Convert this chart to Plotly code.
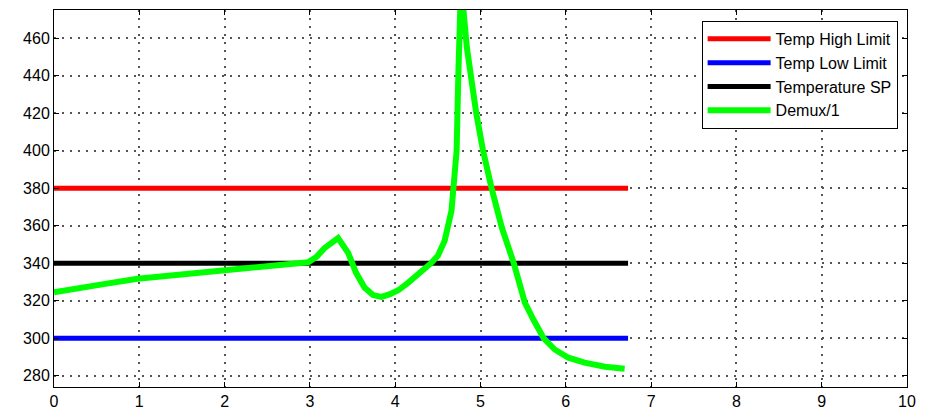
import plotly.graph_objects as go

# ---- data ----
limit_x = [0, 6.73]
high_limit = [380, 380]
low_limit = [300, 300]
setpoint = [340, 340]

demux_x = [0.0, 0.3, 0.6, 0.98, 1.5, 2.0, 2.58, 2.98, 3.08, 3.17, 3.33, 3.45, 3.54, 3.64, 3.74,
           3.84, 3.94, 4.04, 4.15, 4.27, 4.42, 4.5, 4.58, 4.66, 4.69, 4.72, 4.74, 4.755, 4.775,
           4.80, 4.84, 4.95, 5.03, 5.13, 5.25, 5.39, 5.46, 5.52, 5.62, 5.74, 5.87, 6.03,
           6.22, 6.46, 6.69]
demux_y = [324.5, 327.0, 329.0, 331.7, 334.0, 336.0, 338.0, 340.5, 343.5, 348.0, 353.4, 345.4,
           335.0, 327.0, 323.0, 322.0, 323.5, 325.7, 329.5, 334.0, 340.0, 344.0, 352.0, 368.0,
           380.5, 400.0, 440.0, 478.0, 495.0, 475.0, 455.0, 420.0, 400.0, 380.0, 359.0, 340.0,
           329.5, 319.0, 310.0, 300.0, 294.0, 289.6, 287.0, 284.8, 283.7]

series = [
    ("Temp High Limit", limit_x, high_limit, "#ff0000", 5),
    ("Temp Low Limit", limit_x, low_limit, "#0000ff", 5),
    ("Temperature SP", limit_x, setpoint, "#000000", 5),
    ("Demux/1", demux_x, demux_y, "#00ff00", 6),
]

fig = go.Figure()
for i, (name, xs, ys, color, w) in enumerate(series):
    fig.add_trace(go.Scatter(x=xs, y=ys, mode="lines", name=name,
                             line=dict(color=color, width=w, shape="linear"),
                             legendgroup=f"g{i}"))

axis_common = dict(
    showline=True, linecolor="black", linewidth=1, mirror="ticks",
    ticks="inside", ticklen=5, tickcolor="black", tickwidth=1,
    showgrid=True, gridcolor="#555555", gridwidth=1.5, griddash="1.5px,6.5px",
    zeroline=False, automargin=False,
    tickfont=dict(family="Liberation Sans, Arial, sans-serif", size=16, color="black"),
)

fig.update_xaxes(range=[0, 10], dtick=1, tick0=0, **axis_common)
fig.update_yaxes(range=[274, 475], dtick=20, tick0=280, **axis_common)

fig.update_layout(
    width=925, height=409,
    margin=dict(l=54, r=18, t=10, b=22),
    paper_bgcolor="white", plot_bgcolor="white",
    font=dict(family="Liberation Sans, Arial, sans-serif", size=16, color="black"),
    showlegend=True,
    legend=dict(x=0.989, y=0.971, xanchor="right", yanchor="top",
                bgcolor="white", bordercolor="black", borderwidth=1,
                itemwidth=63, tracegroupgap=0, traceorder="grouped",
                font=dict(size=16)),
)

fig.write_html("out.html")
